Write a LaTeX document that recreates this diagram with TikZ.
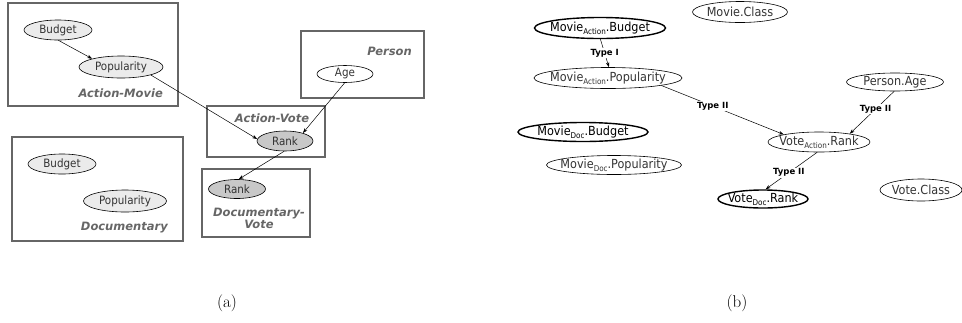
\documentclass[tikz,border=0pt]{standalone}
\usepackage{fontspec}
\usetikzlibrary{shapes.geometric,arrows.meta}
\newfontfamily\dvs{DejaVu Sans}
\newfontfamily\dvc{DejaVu Sans Condensed}
\newcommand\subx[1]{\raisebox{-0.4ex}{\fontsize{8}{8}\selectfont #1}}
\newcommand\mb[1]{\makebox[0pt][c]{#1}}
\definecolor{plategray}{HTML}{666666}
\definecolor{lightfill}{HTML}{EBEBEB}
\definecolor{darkfill}{HTML}{C8C8C8}
\definecolor{txtgray}{HTML}{333333}
\tikzset{
  plate/.style={draw=plategray, line width=1.6pt, inner sep=0pt},
  platelbl/.style={font=\dvs\bfseries\itshape\fontsize{11.5}{13}\selectfont, text=plategray, inner sep=0pt},
  ell/.style={ellipse, draw, line width=0.6pt, inner sep=0pt, font=\dvc\fontsize{11.5}{13}\selectfont, text=txtgray},
  bell/.style={ellipse, draw, line width=0.6pt, inner sep=0pt, font=\dvc\fontsize{12.5}{14}\selectfont, text=txtgray},
  thk/.style={line width=1.4pt, text=black},
  edgelbl/.style={font=\dvs\bfseries\fontsize{8.5}{10}\selectfont, fill=white, inner sep=1pt},
  arr/.style={-{Stealth[length=5pt,width=3.5pt]}, line width=0.5pt},
  caption/.style={font=\fontsize{17}{19}\selectfont, inner sep=0pt}
}
\begin{document}
\begin{tikzpicture}[x=1pt,y=-1pt]
\useasboundingbox (0,0) rectangle (962,322);
% ---------- (a) ----------
\node[plate, minimum width=170pt, minimum height=103pt] (amBox) at (93,54.5) {};
\node[plate, minimum width=123pt, minimum height=67pt] (pBox) at (362.5,64.5) {};
\node[plate, minimum width=118pt, minimum height=51pt] (avBox) at (266,131.5) {};
\node[plate, minimum width=171pt, minimum height=104pt] (dBox) at (97.5,189) {};
\node[plate, minimum width=108pt, minimum height=68pt] (dvBox) at (256,203) {};

\node[platelbl, anchor=east] (amLbl) at (163,93) {Action-Movie};
\node[platelbl, anchor=east] (pLbl) at (412,51) {Person};
\node[platelbl] (avLbl) at (272,118) {Action-Vote};
\node[platelbl, anchor=east] (dLbl) at (168,228) {Documentary};
\node[platelbl, align=center, text width=110pt] (dvLbl) at (259,218) {Documentary-\\[-1pt]Vote};

\node[ell, fill=lightfill, minimum width=68pt, minimum height=20pt] (aBud) at (58,30) {\mb{Budget}};
\node[ell, fill=lightfill, minimum width=84pt, minimum height=22pt] (aPop) at (121,67) {\mb{Popularity}};
\node[ell, fill=white, minimum width=56pt, minimum height=17pt] (aAge) at (345,74) {\mb{Age}};
\node[ell, fill=darkfill, minimum width=56pt, minimum height=20pt] (aRank) at (285,141) {\mb{Rank}};
\node[ell, fill=lightfill, minimum width=68pt, minimum height=20pt] (dBud) at (62,164) {\mb{Budget}};
\node[ell, fill=lightfill, minimum width=83pt, minimum height=22pt] (dPop) at (125,201) {\mb{Popularity}};
\node[ell, fill=darkfill, minimum width=57pt, minimum height=19pt] (dRank) at (237,189) {\mb{Rank}};

\draw[arr] (aBud.-88) -- (aPop.164);
\draw[arr] (aPop.-15) -- (aRank.176);
\draw[arr] (aAge.-92) -- (aRank.24);
\draw[arr] (aRank.-95) -- (dRank.80);

% ---------- (b) ----------
\node[bell, minimum width=95pt, minimum height=21pt] (MC) at (740,12) {\mb{Movie.Class}};
\node[bell, thk, minimum width=131pt, minimum height=21pt] (MAB) at (600,28) {\mb{Movie\subx{Action}.Budget}};
\node[bell, minimum width=148pt, minimum height=21pt] (MAP) at (608,78) {\mb{Movie\subx{Action}.Popularity}};
\node[bell, thk, minimum width=130pt, minimum height=19pt] (MDB) at (583,132) {\mb{Movie\subx{Doc}.Budget}};
\node[bell, minimum width=135pt, minimum height=19pt] (MDP) at (614,165) {\mb{Movie\subx{Doc}.Popularity}};
\node[bell, minimum width=97pt, minimum height=18pt] (PA) at (895,82) {\mb{Person.Age}};
\node[bell, minimum width=102pt, minimum height=20pt] (VAR) at (819,142) {\mb{Vote\subx{Action}.Rank}};
\node[bell, thk, minimum width=90pt, minimum height=18pt] (VDR) at (763,199) {\mb{Vote\subx{Doc}.Rank}};
\node[bell, minimum width=82pt, minimum height=22pt] (VC) at (921,190) {\mb{Vote.Class}};

\draw[arr] (MAB.-88) -- node[edgelbl] (l1) {Type I} (MAP.85);
\draw[arr] (MAP.-8) -- node[edgelbl, pos=0.42] (l2) {Type II} (VAR.168);
\draw[arr] (PA.-95) -- node[edgelbl, pos=0.42] (l3) {Type II} (VAR.15);
\draw[arr] (VAR.-100) -- node[edgelbl, pos=0.55] (l4) {Type II} (VDR.75);

% ---------- captions ----------
\node[caption] (capA) at (227,303) {(a)};
\node[caption] (capB) at (737,303) {(b)};
\end{tikzpicture}
\end{document}
